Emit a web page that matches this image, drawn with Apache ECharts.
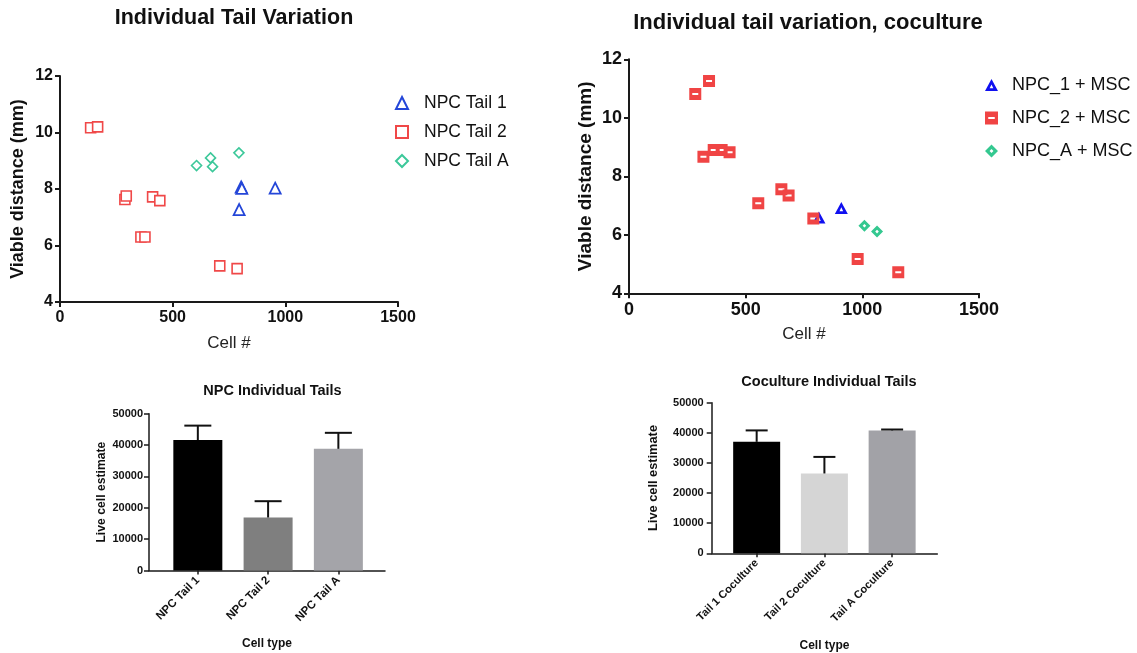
<!DOCTYPE html>
<html><head><meta charset="utf-8">
<script src="https://cdn.jsdelivr.net/npm/echarts@6/dist/echarts.min.js"></script>
<style>html,body{margin:0;padding:0;background:#fff}#c{width:1137px;height:653px}</style>
</head><body><div id="c"></div>
<script>
// ---------- Data ----------
// Top-left: Individual Tail Variation
const tail1X = [804, 807, 795, 955];
const tail1Y = [8.07, 8.02, 7.27, 8.03];
const tail2X = [136, 167, 288, 294, 411, 443, 359, 377, 709, 786];
const tail2Y = [10.17, 10.20, 7.63, 7.75, 7.72, 7.59, 6.30, 6.30, 5.28, 5.18];
const tailAX = [606, 668, 677, 794];
const tailAY = [8.83, 9.10, 8.79, 9.28];
// Top-right: coculture
const co1X = [814, 910];
const co1Y = [6.59, 6.92];
const co2X = [284, 343, 319, 363, 397, 431, 554, 653, 684, 790, 980, 1154];
const co2Y = [10.81, 11.26, 8.67, 8.90, 8.90, 8.82, 7.08, 7.56, 7.34, 6.56, 5.17, 4.72];
const coAX = [1009, 1063];
const coAY = [6.31, 6.11];
const scatterNames1 = ['NPC Tail 1', 'NPC Tail 2', 'NPC Tail A'];
const scatterNames2 = ['NPC_1 + MSC', 'NPC_2 + MSC', 'NPC_A + MSC'];
// Bottom-left: NPC Individual Tails
const npcCats = ['NPC Tail 1', 'NPC Tail 2', 'NPC Tail A'];
const npcMean = [41600, 16900, 38800];
const npcSD = [4600, 5200, 5100];
// Bottom-right: Coculture Individual Tails
const coCats = ['Tail 1 Coculture', 'Tail 2 Coculture', 'Tail A Coculture'];
const coMean = [37000, 26500, 40800];
const coSD = [3800, 5500, 300];

// ---------- Styles ----------
const FONT = '"Liberation Sans", Arial, Helvetica, sans-serif';
const AX = '#1a1a1a';
const plain = v => String(v);
const pairs = (xs, ys) => xs.map((x, i) => [x, ys[i]]);
const trip = (ms, sd) => ms.map((m, i) => [i, m, sd[i]]);

const SQ_SLIT = 'path://M0 0H12V12H0Z M3 5V7H9V5Z';
const TRI_HOLE = 'path://M6 0L12 11L0 11Z M6 5L4.3 8.6L7.7 8.6Z';
const DIA_HOLE = 'path://M6 0L12 6L6 12L0 6Z M6 4.2L4.2 6L6 7.8L7.8 6Z';

function errRender(capW) {
  return function (params, api) {
    const x = api.value(0), m = api.value(1), s = api.value(2);
    const b = api.coord([x, m]);
    const t = api.coord([x, m + s]);
    return {
      type: 'group',
      children: [
        { type: 'line', shape: { x1: b[0], y1: b[1], x2: t[0], y2: t[1] }, style: { stroke: '#111', lineWidth: 2 } },
        { type: 'line', shape: { x1: t[0] - capW / 2, y1: t[1], x2: t[0] + capW / 2, y2: t[1] }, style: { stroke: '#111', lineWidth: 2 } }
      ]
    };
  };
}

function scatterX(grid, fs, margin) {
  return {
    type: 'value', gridIndex: grid, min: 0, max: 1500, interval: 500,
    name: 'Cell #', nameLocation: 'middle', nameGap: 33,
    nameTextStyle: { fontFamily: FONT, fontSize: 17, color: '#222' },
    axisLine: { show: true, onZero: false, lineStyle: { color: AX, width: 2 } },
    axisTick: { show: true, length: 5, lineStyle: { color: AX, width: 2 } },
    axisLabel: { formatter: plain, fontFamily: FONT, fontSize: fs, fontWeight: 'bold', color: '#111', margin: margin },
    splitLine: { show: false }
  };
}
function scatterY(grid, fs, nfs, gap) {
  return {
    type: 'value', gridIndex: grid, min: 4, max: 12, interval: 2,
    name: 'Viable distance (mm)', nameLocation: 'middle', nameGap: gap,
    nameTextStyle: { fontFamily: FONT, fontSize: nfs, fontWeight: 'bold', color: '#111' },
    axisLine: { show: true, onZero: false, lineStyle: { color: AX, width: 2 } },
    axisTick: { show: true, length: 5, lineStyle: { color: AX, width: 2 } },
    axisLabel: { formatter: plain, fontFamily: FONT, fontSize: fs, fontWeight: 'bold', color: '#111', margin: 7 },
    splitLine: { show: false }
  };
}

const option = {
  backgroundColor: '#fff',
  animation: false,
  title: [
    { text: 'Individual Tail Variation', left: 229, top: 2, textAlign: 'center',
      textStyle: { fontFamily: FONT, fontSize: 21.5, fontWeight: 'bold', color: '#111' } },
    { text: 'Individual tail variation, coculture', left: 803, top: 7, textAlign: 'center',
      textStyle: { fontFamily: FONT, fontSize: 22, fontWeight: 'bold', color: '#111' } },
    { text: 'NPC Individual Tails', left: 267.5, top: 378, textAlign: 'center',
      textStyle: { fontFamily: FONT, fontSize: 14.5, fontWeight: 'bold', color: '#111' } },
    { text: 'Coculture Individual Tails', left: 824, top: 369, textAlign: 'center',
      textStyle: { fontFamily: FONT, fontSize: 14.5, fontWeight: 'bold', color: '#111' } }
  ],
  legend: [
    { data: scatterNames1, orient: 'vertical', left: 390, top: 89, itemWidth: 12, itemHeight: 12, itemGap: 11,
      textStyle: { fontFamily: FONT, fontSize: 17.5, color: '#111', padding: [0, 0, 0, 11] } },
    { data: scatterNames2, orient: 'vertical', left: 980, top: 71, itemWidth: 13, itemHeight: 13, itemGap: 15,
      textStyle: { fontFamily: FONT, fontSize: 18, color: '#111', padding: [0, 0, 0, 9] } }
  ],
  grid: [
    { left: 60, right: 739, top: 76, bottom: 351 },
    { left: 629, right: 158, top: 59.3, bottom: 359.7 },
    { left: 149, right: 752, top: 413.7, bottom: 82.5 },
    { left: 162.7, right: 763.5, top: 413.7, bottom: 82.5 },
    { left: 711.7, right: 199.7, top: 402.7, bottom: 99.7 },
    { left: 722.8, right: 211, top: 402.7, bottom: 99.7 }
  ],
  xAxis: [
    scatterX(0, 16, 8),
    Object.assign(scatterX(1, 18, 8), { nameGap: 33 }),
    { type: 'value', gridIndex: 2, min: 0, max: 1,
      name: 'Cell type', nameLocation: 'middle', nameGap: 67,
      nameTextStyle: { fontFamily: FONT, fontSize: 12, fontWeight: 'bold', color: '#111' },
      axisLine: { show: true, onZero: false, lineStyle: { color: AX, width: 1.5 } },
      axisTick: { show: false }, axisLabel: { show: false }, splitLine: { show: false } },
    { type: 'category', gridIndex: 3, data: npcCats,
      axisLine: { show: false },
      axisTick: { show: true, alignWithLabel: true, length: 4, lineStyle: { color: AX, width: 1.5 } },
      axisLabel: { rotate: 45, interval: 0, margin: 8, fontFamily: FONT, fontSize: 11.5, fontWeight: 'bold', color: '#111' } },
    { type: 'value', gridIndex: 4, min: 0, max: 1,
      name: 'Cell type', nameLocation: 'middle', nameGap: 86,
      nameTextStyle: { fontFamily: FONT, fontSize: 12, fontWeight: 'bold', color: '#111' },
      axisLine: { show: true, onZero: false, lineStyle: { color: AX, width: 1.5 } },
      axisTick: { show: false }, axisLabel: { show: false }, splitLine: { show: false } },
    { type: 'category', gridIndex: 5, data: coCats,
      axisLine: { show: false },
      axisTick: { show: true, alignWithLabel: true, length: 4, lineStyle: { color: AX, width: 1.5 } },
      axisLabel: { rotate: 45, interval: 0, margin: 8, fontFamily: FONT, fontSize: 11, fontWeight: 'bold', color: '#111' } }
  ],
  yAxis: [
    scatterY(0, 16, 18, 33),
    scatterY(1, 18, 19, 34),
    { type: 'value', gridIndex: 2, min: 0, max: 50000, interval: 10000,
      name: 'Live cell estimate', nameLocation: 'middle', nameGap: 41,
      nameTextStyle: { fontFamily: FONT, fontSize: 12.2, fontWeight: 'bold', color: '#111' },
      axisLine: { show: true, lineStyle: { color: AX, width: 1.5 } },
      axisTick: { show: true, length: 5, lineStyle: { color: AX, width: 1.5 } },
      axisLabel: { formatter: plain, fontFamily: FONT, fontSize: 11, fontWeight: 'bold', color: '#111', margin: 6 },
      splitLine: { show: false } },
    { type: 'value', gridIndex: 3, min: 0, max: 50000, show: false },
    { type: 'value', gridIndex: 4, min: 0, max: 50000, interval: 10000,
      name: 'Live cell estimate', nameLocation: 'middle', nameGap: 52,
      nameTextStyle: { fontFamily: FONT, fontSize: 12.8, fontWeight: 'bold', color: '#111' },
      axisLine: { show: true, lineStyle: { color: AX, width: 1.5 } },
      axisTick: { show: true, length: 5, lineStyle: { color: AX, width: 1.5 } },
      axisLabel: { formatter: plain, fontFamily: FONT, fontSize: 11, fontWeight: 'bold', color: '#111', margin: 8 },
      splitLine: { show: false } },
    { type: 'value', gridIndex: 5, min: 0, max: 50000, show: false }
  ],
  series: [
    { name: scatterNames1[0], type: 'scatter', xAxisIndex: 0, yAxisIndex: 0, data: pairs(tail1X, tail1Y),
      symbol: 'triangle', symbolSize: 11, itemStyle: { color: '#fff', borderColor: '#2446d8', borderWidth: 1.8, opacity: 1 } },
    { name: scatterNames1[1], type: 'scatter', xAxisIndex: 0, yAxisIndex: 0, data: pairs(tail2X, tail2Y),
      symbol: 'rect', symbolSize: 10, itemStyle: { color: '#fff', borderColor: '#f04848', borderWidth: 1.6, opacity: 1 } },
    { name: scatterNames1[2], type: 'scatter', xAxisIndex: 0, yAxisIndex: 0, data: pairs(tailAX, tailAY),
      symbol: 'diamond', symbolSize: 10, itemStyle: { color: '#fff', borderColor: '#3cc89a', borderWidth: 1.6, opacity: 1 } },

    { name: scatterNames2[0], type: 'scatter', xAxisIndex: 1, yAxisIndex: 1, data: pairs(co1X, co1Y),
      symbol: TRI_HOLE, symbolSize: [13, 12], itemStyle: { color: '#1010f0', opacity: 1 } },
    { name: scatterNames2[1], type: 'scatter', xAxisIndex: 1, yAxisIndex: 1, data: pairs(co2X, co2Y),
      symbol: SQ_SLIT, symbolSize: 12, itemStyle: { color: '#f04444', opacity: 1 } },
    { name: scatterNames2[2], type: 'scatter', xAxisIndex: 1, yAxisIndex: 1, data: pairs(coAX, coAY),
      symbol: DIA_HOLE, symbolSize: 12, itemStyle: { color: '#34c890', opacity: 1 } },

    { type: 'bar', xAxisIndex: 3, yAxisIndex: 3, barWidth: 49,
      data: npcMean.map((v, i) => ({ value: v, itemStyle: { color: ['#000000', '#7f7f7f', '#a4a4a9'][i] } })) },
    { type: 'custom', xAxisIndex: 3, yAxisIndex: 3, renderItem: errRender(27), data: trip(npcMean, npcSD), z: 5 },
    { type: 'bar', xAxisIndex: 5, yAxisIndex: 5, barWidth: 47,
      data: coMean.map((v, i) => ({ value: v, itemStyle: { color: ['#000000', '#d5d5d5', '#a2a2a7'][i] } })) },
    { type: 'custom', xAxisIndex: 5, yAxisIndex: 5, renderItem: errRender(22), data: trip(coMean, coSD), z: 5 }
  ]
};
const chart = echarts.init(document.getElementById('c'), null, { renderer: 'canvas' });
chart.setOption(option);
</script>
</body></html>
